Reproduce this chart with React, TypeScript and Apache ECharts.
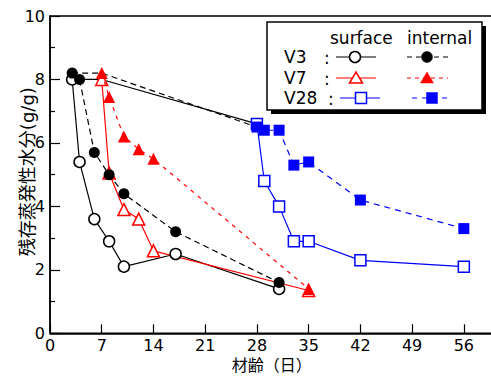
import React, { useEffect, useRef } from "react";
import * as echarts from "echarts";

const xTicks = [0, 7, 14, 21, 28, 35, 42, 49, 56];
const yTicks = [0, 2, 4, 6, 8, 10];

const daysV3 = [3, 4, 6, 8, 10, 17, 31];
const v3Surface = [8.0, 5.4, 3.6, 2.9, 2.1, 2.5, 1.4];
const v3Internal = [8.2, 8.0, 5.7, 5.0, 4.4, 3.2, 1.6];

const daysV7 = [7, 8, 10, 12, 14, 35];
const v7Surface = [8.0, 5.05, 3.9, 3.6, 2.6, 1.35];
const v7Internal = [8.2, 7.45, 6.2, 5.8, 5.5, 1.4];

const daysV28 = [28, 29, 31, 33, 35, 42, 56];
const v28Surface = [6.6, 4.8, 4.0, 2.9, 2.9, 2.3, 2.1];
const v28Internal = [6.5, 6.4, 6.4, 5.3, 5.4, 4.2, 3.3];

const initDays = [3, 7, 28];
const initSurface = [8.0, 8.0, 6.6];
const initInternal = [8.2, 8.2, 6.5];

const FONT = "'DejaVu Sans', 'Noto Sans CJK JP', sans-serif";
const BLACK = "#000000";
const RED = "#ff0000";
const BLUE = "#0000ff";

function pairs(days: number[], vals: number[]) {
  return days.map((d, i) => [d, vals[i]]);
}

function mk(
  name: string,
  days: number[],
  vals: number[],
  color: string,
  symbol: string,
  filled: boolean,
  dash: number[] | null,
  size: number,
  z: number
) {
  return {
    name,
    type: "line",
    data: pairs(days, vals),
    symbol,
    symbolSize: size,
    showSymbol: true,
    z,
    lineStyle: { color, width: 1.2, type: dash ? dash : "solid" },
    itemStyle: {
      color: filled ? color : "#ffffff",
      borderColor: color,
      borderWidth: filled ? 0 : 1.5,
      opacity: 1,
    },
    emphasis: { disabled: true },
  };
}

function legendGraphic() {
  const els: any[] = [];
  els.push({ type: "rect", shape: { x: 271, y: 26, width: 215, height: 88 }, style: { fill: BLACK }, z: 100 });
  els.push({
    type: "rect",
    shape: { x: 267, y: 22, width: 215, height: 88 },
    style: { fill: "#ffffff", stroke: BLACK, lineWidth: 1.5 },
    z: 101,
  });
  const txt = (t: string, x: number, y: number) => ({
    type: "text",
    x,
    y,
    z: 102,
    style: { text: t, fill: BLACK, font: `17px ${FONT}`, textVerticalAlign: "middle", textAlign: "left" },
  });
  els.push(txt("surface", 330, 38));
  els.push(txt("internal", 407, 38));
  const rows = [
    { label: "V3", colon: 324, y: 57, color: BLACK, kind: "circle", s: [336, 376, 355], i: [407, 448, 427], dash: [5, 4] },
    { label: "V7", colon: 324, y: 78, color: RED, kind: "triangle", s: [336, 376, 356], i: [407, 448, 427], dash: [4, 4] },
    { label: "V28", colon: 328, y: 98, color: BLUE, kind: "rect", s: [340, 380, 361], i: [412, 452, 432], dash: [5, 5] },
  ];
  rows.forEach((r) => {
    els.push(txt(r.label, 284, r.y));
    els.push(txt(":", r.colon, r.y + 1));
    els.push({
      type: "line",
      z: 102,
      shape: { x1: r.s[0], y1: r.y, x2: r.s[1], y2: r.y },
      style: { stroke: r.color, lineWidth: 1.2 },
    });
    els.push({
      type: "line",
      z: 102,
      shape: { x1: r.i[0], y1: r.y, x2: r.i[1], y2: r.y },
      style: { stroke: r.color, lineWidth: 1.2, lineDash: r.dash },
    });
    const marker = (cx: number, filled: boolean) => {
      const style = filled
        ? { fill: r.color, stroke: r.color, lineWidth: 0.5 }
        : { fill: "#ffffff", stroke: r.color, lineWidth: 1.5 };
      if (r.kind === "circle") return { type: "circle", z: 103, shape: { cx, cy: r.y, r: 5.5 }, style };
      if (r.kind === "rect") return { type: "rect", z: 103, shape: { x: cx - 5.5, y: r.y - 5.5, width: 11, height: 11 }, style };
      return {
        type: "polygon",
        z: 103,
        shape: { points: [[cx, r.y - 6], [cx + 6.5, r.y + 5], [cx - 6.5, r.y + 5]] },
        style,
      };
    };
    els.push(marker(r.s[2], false));
    els.push(marker(r.i[2], true));
  });
  return els;
}

export default function App() {
  const ref = useRef<HTMLDivElement>(null);
  useEffect(() => {
    if (!ref.current) return;
    const chart = echarts.init(ref.current, null, { renderer: "svg" });
    const option: any = {
      animation: false,
      backgroundColor: "#ffffff",
      textStyle: { fontFamily: FONT },
      grid: {
        left: 50,
        top: 16,
        width: 443.4,
        height: 317.3,
        show: true,
        borderColor: BLACK,
        borderWidth: 1.5,
        backgroundColor: "transparent",
        outerBoundsMode: "none",
      },
      xAxis: {
        type: "value",
        min: 0,
        max: 60,
        interval: 7,
        name: "材齢（日）",
        nameLocation: "middle",
        nameGap: 24,
        nameMoveOverlap: false,
        nameTextStyle: { fontSize: 16, color: BLACK, fontFamily: FONT },
        axisLine: { show: true, lineStyle: { color: BLACK, width: 1.5 } },
        axisTick: { show: true, inside: true, length: 9, lineStyle: { color: BLACK, width: 1.2 } },
        axisLabel: {
          fontSize: 16,
          color: BLACK,
          margin: 4,
          fontFamily: FONT,
          formatter: (v: number) => (xTicks.includes(v) ? String(v) : ""),
        },
        splitLine: { show: false },
      },
      yAxis: {
        type: "value",
        min: 0,
        max: 10,
        interval: 2,
        name: "残存蒸発性水分(g/g)",
        nameLocation: "middle",
        nameRotate: 90,
        nameGap: 14,
        nameMoveOverlap: false,
        nameTextStyle: { fontSize: 18, color: BLACK, fontFamily: FONT, padding: [0, 0, 0, 6] },
        axisLine: { show: true, lineStyle: { color: BLACK, width: 1.5 } },
        axisTick: { show: true, inside: true, length: 10, lineStyle: { color: BLACK, width: 1.2 } },
        minorTick: { show: true, splitNumber: 2, length: 5, lineStyle: { color: BLACK, width: 1.2 } },
        axisLabel: {
          fontSize: 16,
          color: BLACK,
          margin: 5,
          fontFamily: FONT,
          formatter: (v: number) => (yTicks.includes(v) ? String(v) : ""),
        },
        splitLine: { show: false },
        minorSplitLine: { show: false },
      },
      series: [
        {
          name: "init-surface",
          type: "line",
          data: pairs(initDays, initSurface),
          showSymbol: false,
          symbol: "none",
          z: 1,
          lineStyle: { color: BLACK, width: 1.2, type: "solid" },
          emphasis: { disabled: true },
        },
        {
          name: "init-internal",
          type: "line",
          data: pairs(initDays, initInternal),
          showSymbol: false,
          symbol: "none",
          z: 1,
          lineStyle: { color: BLACK, width: 1.2, type: [6, 4] },
          emphasis: { disabled: true },
        },
        mk("V3 surface", daysV3, v3Surface, BLACK, "circle", false, null, 11, 2),
        mk("V3 internal", daysV3, v3Internal, BLACK, "circle", true, [6, 4], 11, 3),
        mk("V7 surface", daysV7, v7Surface, RED, "triangle", false, null, 12, 2),
        mk("V7 internal", daysV7, v7Internal, RED, "triangle", true, [4, 5], 12, 3),
        mk("V28 surface", daysV28, v28Surface, BLUE, "rect", false, null, 11, 2),
        mk("V28 internal", daysV28, v28Internal, BLUE, "rect", true, [6, 5], 11, 3),
      ],
      graphic: legendGraphic(),
    };
    chart.setOption(option);
    return () => chart.dispose();
  }, []);
  return (
    <div
      ref={ref}
      style={{ position: "fixed", left: 0, top: 0, width: 491, height: 381, background: "#fff" }}
    />
  );
}
